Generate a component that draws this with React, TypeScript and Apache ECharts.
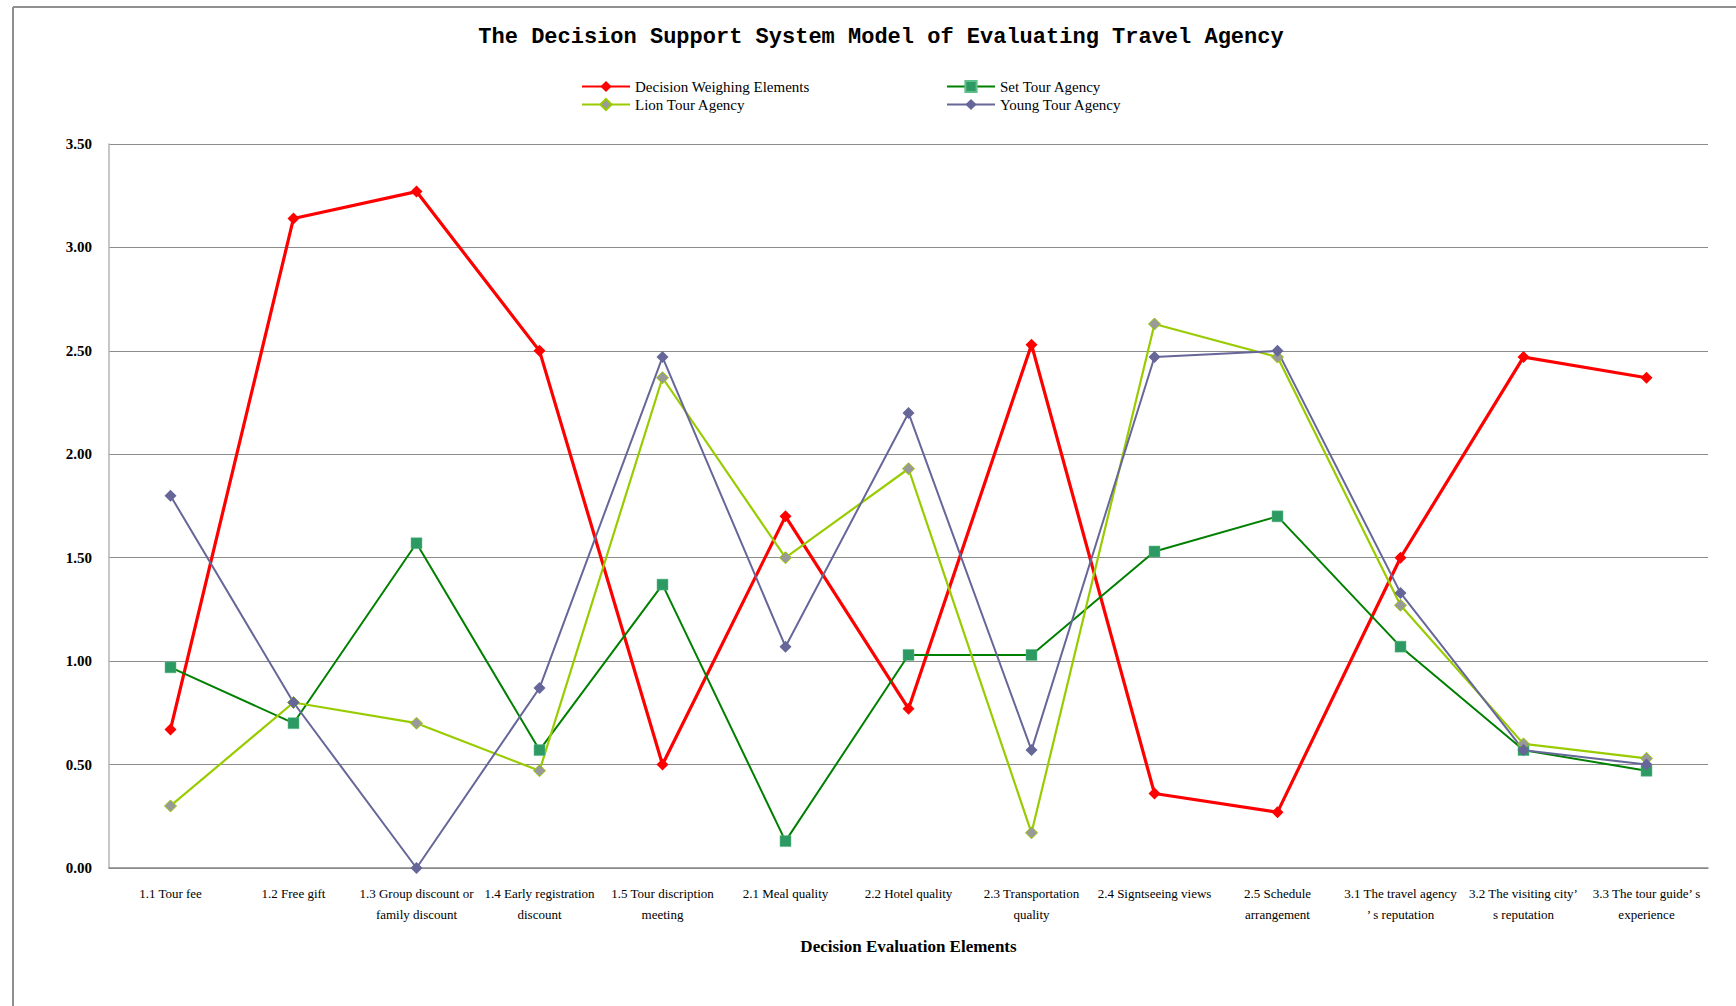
import React, { useEffect, useRef } from "react";
import * as echarts from "echarts";

const categories = [
  "1.1 Tour fee",
  "1.2 Free gift",
  "1.3 Group discount or\nfamily discount",
  "1.4 Early registration\ndiscount",
  "1.5 Tour discription\nmeeting",
  "2.1 Meal quality",
  "2.2 Hotel quality",
  "2.3 Transportation\nquality",
  "2.4 Signtseeing views",
  "2.5 Schedule\narrangement",
  "3.1 The travel agency\n’ s reputation",
  "3.2 The visiting city’\ns reputation",
  "3.3 The tour guide’ s\nexperience",
];

const decisionWeighing = [0.67, 3.14, 3.27, 2.5, 0.5, 1.7, 0.77, 2.53, 0.36, 0.27, 1.5, 2.47, 2.37];
const setTour = [0.97, 0.7, 1.57, 0.57, 1.37, 0.13, 1.03, 1.03, 1.53, 1.7, 1.07, 0.57, 0.47];
const lionTour = [0.3, 0.8, 0.7, 0.47, 2.37, 1.5, 1.93, 0.17, 2.63, 2.47, 1.27, 0.6, 0.53];
const youngTour = [1.8, 0.8, 0.0, 0.87, 2.47, 1.07, 2.2, 0.57, 2.47, 2.5, 1.33, 0.57, 0.5];

const yTicks = { min: 0, max: 3.5, interval: 0.5 };

const SERIF = '"Liberation Serif", "Times New Roman", serif';

export default function App() {
  const ref = useRef<HTMLDivElement>(null);
  useEffect(() => {
    if (!ref.current) return;
    const chart = echarts.init(ref.current, undefined, { renderer: "svg" });
    const legendText = { fontFamily: SERIF, fontSize: 15, color: "#000", lineHeight: 15 };
    chart.setOption({
      animation: false,
      backgroundColor: "#fff",
      title: {
        text: "The Decision Support System Model of Evaluating Travel Agency",
        left: 876,
        textAlign: "center",
        top: 21,
        textStyle: {
          fontFamily: '"Liberation Mono", "Courier New", monospace',
          fontWeight: "bold",
          fontSize: 22,
          color: "#000",
        },
      },
      legend: [
        {
          data: ["Decision Weighing Elements", "Lion Tour Agency"],
          orient: "vertical",
          left: 581,
          top: 79,
          padding: 0,
          itemWidth: 48,
          itemHeight: 14,
          itemGap: 3,
          textStyle: legendText,
        },
        {
          data: ["Set Tour Agency", "Young Tour Agency"],
          orient: "vertical",
          left: 946,
          top: 79,
          padding: 0,
          itemWidth: 48,
          itemHeight: 14,
          itemGap: 3,
          textStyle: legendText,
        },
      ],
      grid: { left: 109, right: 28, top: 144, bottom: 138, containLabel: false },
      xAxis: {
        type: "category",
        data: categories,
        boundaryGap: true,
        name: "Decision Evaluation Elements",
        nameLocation: "middle",
        nameGap: 70,
        nameTextStyle: { fontFamily: SERIF, fontWeight: "bold", fontSize: 17, color: "#000" },
        axisLine: { show: true, lineStyle: { color: "#888", width: 1.5 } },
        axisTick: { show: false },
        axisLabel: {
          interval: 0,
          margin: 15,
          fontFamily: SERIF,
          fontSize: 13,
          lineHeight: 21,
          color: "#000",
          hideOverlap: false,
        },
      },
      yAxis: {
        type: "value",
        min: yTicks.min,
        max: yTicks.max,
        interval: yTicks.interval,
        axisLine: { show: true, lineStyle: { color: "#b5b5b5", width: 1.5 } },
        axisTick: { show: false },
        splitLine: { show: true, lineStyle: { color: "#8c8c8c", width: 1 } },
        axisLabel: {
          margin: 17,
          fontFamily: SERIF,
          fontWeight: "bold",
          fontSize: 15,
          color: "#000",
          formatter: (v: number) => v.toFixed(2),
        },
      },
      series: [
        {
          name: "Decision Weighing Elements",
          type: "line",
          data: decisionWeighing,
          symbol: "diamond",
          symbolSize: 12,
          lineStyle: { color: "#FF0000", width: 3.2 },
          itemStyle: { color: "#FF0000" },
        },
        {
          name: "Set Tour Agency",
          type: "line",
          data: setTour,
          symbol: "rect",
          symbolSize: 11,
          lineStyle: { color: "#008000", width: 2 },
          itemStyle: { color: "#2E9A63", borderColor: "#5fbf8a", borderWidth: 0.5 },
        },
        {
          name: "Lion Tour Agency",
          type: "line",
          data: lionTour,
          symbol: "diamond",
          symbolSize: 12,
          lineStyle: { color: "#99CC00", width: 2.2 },
          itemStyle: { color: "#999999", borderColor: "#99CC00", borderWidth: 1 },
        },
        {
          name: "Young Tour Agency",
          type: "line",
          data: youngTour,
          symbol: "diamond",
          symbolSize: 12,
          lineStyle: { color: "#666699", width: 2 },
          itemStyle: { color: "#666699" },
        },
      ],
      graphic: [
        {
          type: "line",
          shape: { x1: 13, y1: 7, x2: 1736, y2: 7 },
          style: { stroke: "#8f8f8f", lineWidth: 2 },
          silent: true,
        },
        {
          type: "line",
          shape: { x1: 13, y1: 7, x2: 13, y2: 1006 },
          style: { stroke: "#8f8f8f", lineWidth: 2 },
          silent: true,
        },
      ],
    });
    return () => chart.dispose();
  }, []);
  return (
    <div
      ref={ref}
      style={{ position: "absolute", left: 0, top: 0, width: 1736, height: 1006, background: "#fff" }}
    />
  );
}
